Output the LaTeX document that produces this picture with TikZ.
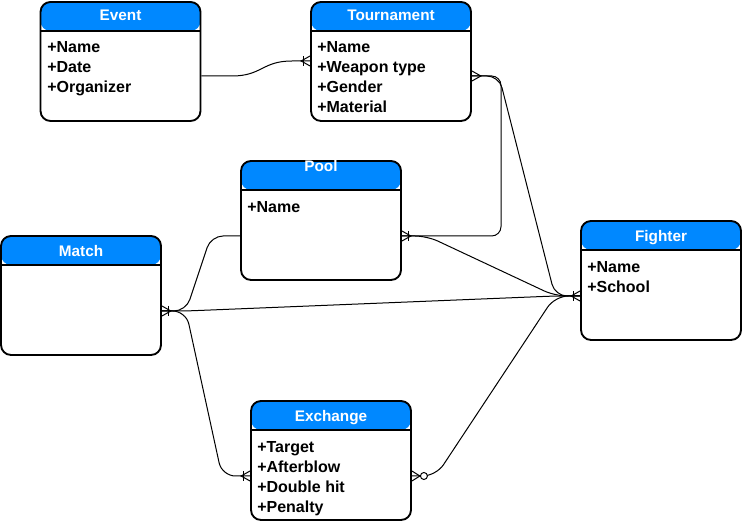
\documentclass[tikz,border=0pt]{standalone}
\usepackage{fontspec}
\setmainfont{Liberation Sans}
\usetikzlibrary{calc}
\definecolor{hdr}{RGB}{0,136,255}
\tikzset{
  entity/.style={draw, line width=1.4pt, rounded corners=7.5pt,
    minimum width=120pt, minimum height=89.25pt, inner sep=0pt, fill=white,
    path picture={
      \fill[hdr] (path picture bounding box.north west) rectangle ([yshift=-21.75pt]path picture bounding box.north east);
      \draw[line width=1.4pt] ([yshift=-21.75pt]path picture bounding box.north west) -- ([yshift=-21.75pt]path picture bounding box.north east);
    }},
  ttl/.style={anchor=base, text=white, font=\bfseries\fontsize{11.5}{13}\selectfont, inner sep=0pt},
  attr/.style={anchor=base west, font=\bfseries\fontsize{12}{14}\selectfont, inner sep=0pt},
  conn/.style={line width=0.75pt, rounded corners=7pt},
  onemany/.pic={\draw[line width=0.75pt] (0,-5) -- (9,0) -- (0,5); \draw[line width=0.75pt] (7,-5) -- (7,5);},
  many/.pic={\draw[line width=0.75pt] (0,-5) -- (9,0) -- (0,5);},
  zeromany/.pic={\draw[line width=0.75pt] (0,-5) -- (8,0) -- (0,5); \draw[line width=0.75pt, fill=white] (12,0) circle (3.5);}
}
\begin{document}
\begin{tikzpicture}[x=0.75pt,y=-0.75pt]
\useasboundingbox (0,0) rectangle (743,523);
% entities
\node[entity] (event) at (120.5,61.5) {};
\node[entity] (tourn) at (391,61.5) {};
\node[entity] (pool) at (321,220.5) {};
\node[entity] (match) at (81,295.5) {};
\node[entity] (fighter) at (661,280.5) {};
\node[entity] (exch) at (331,460.5) {};
% titles
\node[ttl] (eventT) at (120.5,21) {Event};
\node[ttl] (tournT) at (391,21) {Tournament};
\node[ttl] (poolT) at (321,171.5) {Pool};
\node[ttl] (matchT) at (81,256.5) {Match};
\node[ttl] (fighterT) at (661,241.5) {Fighter};
\node[ttl] (exchT) at (331,421.5) {Exchange};
% attributes
\node[attr] (ev1) at (47,52.5) {+Name};
\node[attr] (ev2) at (47,72.5) {+Date};
\node[attr] (ev3) at (47,92.5) {+Organizer};
\node[attr] (tn1) at (317,52.5) {+Name};
\node[attr] (tn2) at (317,72.5) {+Weapon type};
\node[attr] (tn3) at (317,92.5) {+Gender};
\node[attr] (tn4) at (317,112.5) {+Material};
\node[attr] (pl1) at (247,213) {+Name};
\node[attr] (fg1) at (587,273) {+Name};
\node[attr] (fg2) at (587,293) {+School};
\node[attr] (ex1) at (257,452.5) {+Target};
\node[attr] (ex2) at (257,472.5) {+Afterblow};
\node[attr] (ex3) at (257,492.5) {+Double hit};
\node[attr] (ex4) at (257,512.5) {+Penalty};
% ports
\coordinate (evR) at ($(event.east)+(0,14.5)$);
\coordinate (tnL) at ($(tourn.west)+(0,-0.5)$);
\coordinate (tnR) at ($(tourn.east)+(0,14.5)$);
\coordinate (plR) at ($(pool.east)+(0,15.5)$);
\coordinate (plL) at ($(pool.west)+(0,15.5)$);
\coordinate (mtR) at ($(match.east)+(0,15.5)$);
\coordinate (fgL) at ($(fighter.west)+(0,15.5)$);
\coordinate (exL) at ($(exch.west)+(0,15.5)$);
\coordinate (exR) at ($(exch.east)+(0,15.5)$);
% connectors
\draw[line width=0.75pt] (evR) -- (232,76) .. controls (262,76) and (262,61) .. (292,61) -- (tnL);
\draw[conn] (tnR) -- (501,76) -- (501,236) -- (plR);
\draw[conn, rounded corners=9pt] (tnR) -- (499,76) -- (555,296) -- (fgL);
\draw[conn, rounded corners=9pt] (plR) -- (427,236) -- (555,296) -- (fgL);
\draw[conn, rounded corners=9pt] (mtR) -- (186,311) -- (211,236) -- (plL);
\draw[conn] (mtR) -- (186,311) -- (555,296) -- (fgL);
\draw[conn, rounded corners=10pt] (mtR) -- (186,311) -- (222,476) -- (exL);
\draw[conn, rounded corners=10pt] (exR) -- (436,476) -- (555,296) -- (fgL);
% markers
\pic (m1) [rotate=180] at (tnL) {onemany};
\pic (m2) at (tnR) {many};
\pic (m3) at (plR) {onemany};
\pic (m4) at (mtR) {onemany};
\pic (m5) [rotate=180] at (fgL) {onemany};
\pic (m6) [rotate=180] at (exL) {onemany};
\pic (m7) at (exR) {zeromany};
\end{tikzpicture}
\end{document}
